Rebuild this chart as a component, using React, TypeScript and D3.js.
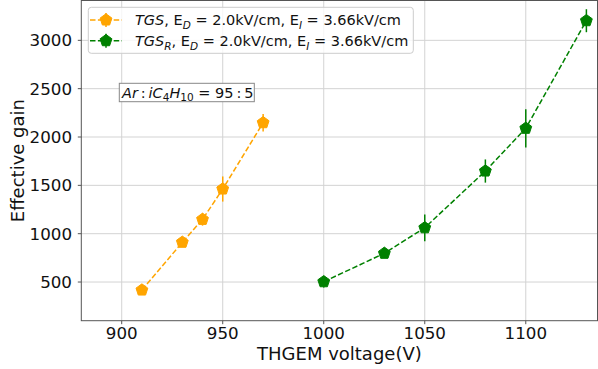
import React from 'react';
import * as d3 from 'd3';

// THGEM voltage (V) vs effective gain
const voltageTGS = [910, 930, 940, 950, 970];
const gainTGS = [417, 911, 1148, 1462, 2148];
const errTGS = [20, 30, 65, 130, 90];

const voltageTGSR = [1000, 1030, 1050, 1080, 1100, 1130];
const gainTGSR = [503, 797, 1061, 1648, 2090, 3203];
const errTGSR = [60, 25, 138, 120, 198, 119];

const xTicks = [900, 950, 1000, 1050, 1100];
const yTicks = [500, 1000, 1500, 2000, 2500, 3000];

const W = 598;
const H = 369;
const FONT = '"DejaVu Sans", sans-serif';

const pentagon = (r: number) => {
  const pts = d3.range(5).map(i => {
    const a = -Math.PI / 2 + (i * 2 * Math.PI) / 5;
    return [r * Math.cos(a), r * Math.sin(a)];
  });
  return 'M' + pts.map(p => p[0].toFixed(2) + ',' + p[1].toFixed(2)).join('L') + 'Z';
};

function Series({ xs, ys, errs, color, x, y }: any) {
  const pts = xs.map((v: number, i: number) => [x(v), y(ys[i])]);
  const line = d3.line();
  return (
    <g>
      <path d={line(pts) || ''} fill="none" stroke={color} strokeWidth={1.5} strokeDasharray="5.5,2.4" />
      {xs.map((v: number, i: number) => (
        <line key={'e' + i} x1={x(v)} x2={x(v)} y1={y(ys[i] - errs[i])} y2={y(ys[i] + errs[i])} stroke={color} strokeWidth={1.5} />
      ))}
      {pts.map((p: number[], i: number) => (
        <path key={'m' + i} d={pentagon(6.2)} transform={`translate(${p[0]},${p[1]})`} fill={color} stroke={color} strokeWidth={1} />
      ))}
    </g>
  );
}

function LegendRow({ yc, color, label }: any) {
  return (
    <g>
      <line x1={90} x2={122} y1={yc} y2={yc} stroke={color} strokeWidth={1.5} strokeDasharray="5.5,2.4" />
      <line x1={106} x2={106} y1={yc - 7} y2={yc + 7} stroke={color} strokeWidth={1.5} />
      <path d={pentagon(6.2)} transform={`translate(106,${yc})`} fill={color} stroke={color} />
      {label}
    </g>
  );
}

export default function App() {
  const x = d3.scaleLinear().domain([880, 1135.5]).range([81.3, 597.5]);
  const y = d3.scaleLinear().domain([100, 3412]).range([320.7, 0.5]);
  const [x0, x1] = x.range();
  const [y0, y1] = y.range();

  const sub = (t: string) => (
    <tspan dy={3.5} fontSize={10.5} fontStyle="italic">{t}</tspan>
  );

  return (
    <div style={{ position: 'fixed', left: 0, top: 0 }}>
      <svg width={W} height={H} style={{ display: 'block', background: '#fff' }} fontFamily={FONT}>
        {/* grid */}
        {xTicks.map(t => (
          <line key={'gx' + t} x1={x(t)} x2={x(t)} y1={y1} y2={y0} stroke="#d3d3d3" strokeWidth={1} />
        ))}
        {yTicks.map(t => (
          <line key={'gy' + t} x1={x0} x2={x1} y1={y(t)} y2={y(t)} stroke="#d3d3d3" strokeWidth={1} />
        ))}

        <Series xs={voltageTGS} ys={gainTGS} errs={errTGS} color="orange" x={x} y={y} />
        <Series xs={voltageTGSR} ys={gainTGSR} errs={errTGSR} color="green" x={x} y={y} />

        {/* spines */}
        <rect x={x0} y={y1} width={x1 - x0} height={y0 - y1} fill="none" stroke="#555" strokeWidth={1} />

        {/* x axis */}
        {xTicks.map(t => (
          <g key={'tx' + t}>
            <line x1={x(t)} x2={x(t)} y1={y0} y2={y0 + 3.5} stroke="#555" />
            <text x={x(t)} y={339.3} textAnchor="middle" fontSize={16.7} fill="#111">{t}</text>
          </g>
        ))}
        <text x={(x0 + x1) / 2} y={359.5} textAnchor="middle" fontSize={18} fill="#111">THGEM voltage(V)</text>

        {/* y axis */}
        {yTicks.map(t => (
          <g key={'ty' + t}>
            <line x1={x0 - 3.5} x2={x0} y1={y(t)} y2={y(t)} stroke="#555" />
            <text x={72} y={y(t)} dy="0.36em" textAnchor="end" fontSize={16.7} fill="#111">{t}</text>
          </g>
        ))}
        <text transform={`translate(24,${(y0 + y1) / 2}) rotate(-90)`} textAnchor="middle" fontSize={18} fill="#111">Effective gain</text>

        {/* legend */}
        <rect x={88.3} y={7.3} width={325} height={46} rx={3} fill="#fff" fillOpacity={0.8} stroke="#ccc" />
        <LegendRow
          yc={20}
          color="orange"
          label={
            <text x={135} y={25} fontSize={14.5} fill="#111">
              <tspan fontStyle="italic">TGS</tspan>
              <tspan>, E</tspan>
              {sub('D')}
              <tspan dy={-3.5}> = 2.0kV/cm, E</tspan>
              {sub('I')}
              <tspan dy={-3.5}> = 3.66kV/cm</tspan>
            </text>
          }
        />
        <LegendRow
          yc={40.7}
          color="green"
          label={
            <text x={135} y={46} fontSize={14.5} fill="#111">
              <tspan fontStyle="italic">TGS</tspan>
              {sub('R')}
              <tspan dy={-3.5}>, E</tspan>
              {sub('D')}
              <tspan dy={-3.5}> = 2.0kV/cm, E</tspan>
              {sub('I')}
              <tspan dy={-3.5}> = 3.66kV/cm</tspan>
            </text>
          }
        />

        {/* gas mixture annotation */}
        <rect x={119.3} y={83.3} width={135} height={18.4} fill="#fff" stroke="#888" strokeWidth={1} />
        <text x={122} y={97.5} fontSize={14.5} fill="#111">
          <tspan fontStyle="italic">Ar</tspan>
          <tspan>{'\u2009:\u2009'}</tspan>
          <tspan fontStyle="italic">iC</tspan>
          <tspan dy={3.5} fontSize={10.5}>4</tspan>
          <tspan dy={-3.5} fontStyle="italic">H</tspan>
          <tspan dy={3.5} fontSize={10.5}>10</tspan>
          <tspan dy={-3.5}>{' = 95\u2009:\u20095'}</tspan>
        </text>
      </svg>
    </div>
  );
}
